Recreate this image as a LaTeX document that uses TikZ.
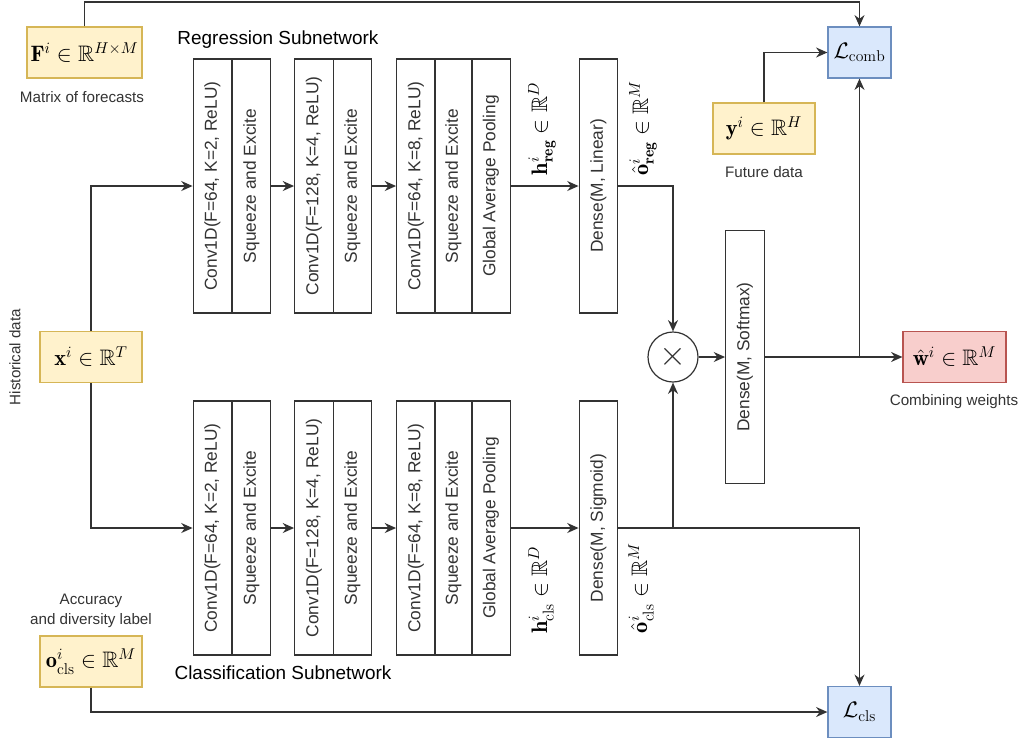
\RequirePackage{fix-cm}
\documentclass[tikz,border=0pt]{standalone}
\usepackage{amsmath,amssymb}
\usepackage{fontspec}
\newfontfamily\sansf{Liberation Sans}
\usetikzlibrary{arrows.meta,calc}
\definecolor{yfill}{HTML}{FFF2CC}
\definecolor{ydraw}{HTML}{D6B656}
\definecolor{bfill}{HTML}{DAE8FC}
\definecolor{bdraw}{HTML}{6C8EBF}
\definecolor{rfill}{HTML}{F8CECC}
\definecolor{rdraw}{HTML}{B85450}
\definecolor{ink}{HTML}{333333}
\newcommand\mathsz{\fontsize{16.8}{19}\selectfont}
\newcommand\timessz{\fontsize{26}{28}\selectfont}
\newcommand\blksz{\sansf\fontsize{13}{15}\selectfont}
\newcommand\lblsz{\sansf\fontsize{11.4}{13.5}\selectfont}
\newcommand\ttlsz{\sansf\fontsize{14.2}{17}\selectfont}
\begin{document}
\begin{tikzpicture}[x=0.75pt,y=-0.75pt,
  line/.style={draw=ink, line width=1pt},
  arr/.style={line, -{Stealth[length=8.5pt,width=7.5pt]}},
  mbox/.style={line width=0.9pt, minimum height=38.25pt, inner sep=0pt, font=\mathsz},
  ybox/.style={mbox, draw=ydraw, fill=yfill, minimum width=76.5pt},
  bbox/.style={mbox, draw=bdraw, fill=bfill, minimum width=47.25pt},
  rbox/.style={mbox, draw=rdraw, fill=rfill, minimum width=77.25pt},
  blk/.style={draw=ink, line width=0.9pt, rotate=90, minimum width=190.5pt, minimum height=29pt, inner sep=0pt, font=\blksz, text=ink},
  lbl/.style={font=\lblsz, text=ink, inner sep=0pt},
  ttl/.style={font=\ttlsz, text=black, inner sep=0pt},
  mlbl/.style={font=\mathsz, rotate=90, inner sep=0pt}
]
\useasboundingbox (0,0) rectangle (1024,740);
% inputs and outputs
\node[ybox, minimum width=86.25pt] (F) at (84.5,52.5) {$\mathbf{F}^i \in \mathbb{R}^{H\times M}$};
\node[lbl] (Ftxt) at (82,97) {Matrix of forecasts};
\node[ybox] (y) at (764,128.5) {$\mathbf{y}^i \in \mathbb{R}^H$};
\node[lbl] (ytxt) at (764,172) {Future data};
\node[bbox] (Lcomb) at (859.5,52.5) {$\mathcal{L}_{\mathrm{comb}}$};
\node[ybox] (x) at (91,357) {$\mathbf{x}^i \in \mathbb{R}^T$};
\node[lbl, rotate=90] (xtxt) at (15,357) {Historical data};
\node[ybox] (ocls) at (91,661.5) {$\mathbf{o}^i_{\mathrm{cls}} \in \mathbb{R}^M$};
\node[lbl, align=center] (otxt) at (91,611) {Accuracy\\[1pt]and diversity label};
\node[bbox] (Lcls) at (859.5,712) {$\mathcal{L}_{\mathrm{cls}}$};
\node[rbox] (w) at (954.5,357) {$\hat{\mathbf{w}}^i \in \mathbb{R}^M$};
\node[lbl] (wtxt) at (954,402) {Combining weights};
\node[ttl] (rtitle) at (278,40) {Regression Subnetwork};
\node[ttl] (ctitle) at (283,673) {Classification Subnetwork};
% regression subnetwork
\node[blk] (c1r) at (212.5,186) {Conv1D(F=64, K=2, ReLU)};
\node[blk] (s1r) at (251.5,186) {Squeeze and Excite};
\node[blk] (c2r) at (314,186) {Conv1D(F=128, K=4, ReLU)};
\node[blk] (s2r) at (352.5,186) {Squeeze and Excite};
\node[blk] (c3r) at (416,186) {Conv1D(F=64, K=8, ReLU)};
\node[blk] (s3r) at (453.5,186) {Squeeze and Excite};
\node[blk] (gr) at (491,186) {Global Average Pooling};
\node[blk] (dl) at (598.5,186) {Dense(M, Linear)};
% classification subnetwork
\node[blk] (c1c) at (212.5,528) {Conv1D(F=64, K=2, ReLU)};
\node[blk] (s1c) at (251.5,528) {Squeeze and Excite};
\node[blk] (c2c) at (314,528) {Conv1D(F=128, K=4, ReLU)};
\node[blk] (s2c) at (352.5,528) {Squeeze and Excite};
\node[blk] (c3c) at (416,528) {Conv1D(F=64, K=8, ReLU)};
\node[blk] (s3c) at (453.5,528) {Squeeze and Excite};
\node[blk] (gc) at (491,528) {Global Average Pooling};
\node[blk] (ds) at (598.5,528) {Dense(M, Sigmoid)};
% combination
\node[circle, draw=ink, line width=0.9pt, minimum size=37.5pt, inner sep=0pt, font=\timessz, text=ink] (mul) at (673,357) {$\times$};
\node[blk, minimum width=190pt] (dsm) at (745,357) {Dense(M, Softmax)};
% rotated math labels
\node[mlbl] (hreg) at (542,129) {$\mathbf{h}^i_{\mathbf{reg}} \in \mathbb{R}^D$};
\node[mlbl] (oreg) at (643,128) {$\hat{\mathbf{o}}^i_{\mathbf{reg}} \in \mathbb{R}^M$};
\node[mlbl] (hcls) at (541,590) {$\mathbf{h}^i_{\mathrm{cls}} \in \mathbb{R}^D$};
\node[mlbl] (ocl) at (641,588) {$\hat{\mathbf{o}}^i_{\mathrm{cls}} \in \mathbb{R}^M$};
% connectors
\coordinate (top) at (0,2);
\draw[arr] (F.north) -- (F.north |- top) -| (Lcomb.north);
\draw[arr] (y.north) |- (Lcomb.west);
\draw[arr] (x.north) |- (c1r.north);
\draw[arr] (x.south) |- (c1c.north);
\draw[arr] (s1r.south) -- (c2r.north);
\draw[arr] (s2r.south) -- (c3r.north);
\draw[arr] (gr.south) -- (dl.north);
\draw[arr] (s1c.south) -- (c2c.north);
\draw[arr] (s2c.south) -- (c3c.north);
\draw[arr] (gc.south) -- (ds.north);
\draw[arr] (dl.south) -| (mul.north);
\draw[arr] (ds.south) -| (mul.south);
\draw[arr] (ds.south) -| (Lcls.north);
\draw[arr] (mul.east) -- (dsm.north);
\draw[arr] (dsm.south) -- (w.west);
\draw[arr] (dsm.south -| Lcomb.south) -- (Lcomb.south);
\draw[arr] (ocls.south) |- (Lcls.west);
\end{tikzpicture}
\end{document}
